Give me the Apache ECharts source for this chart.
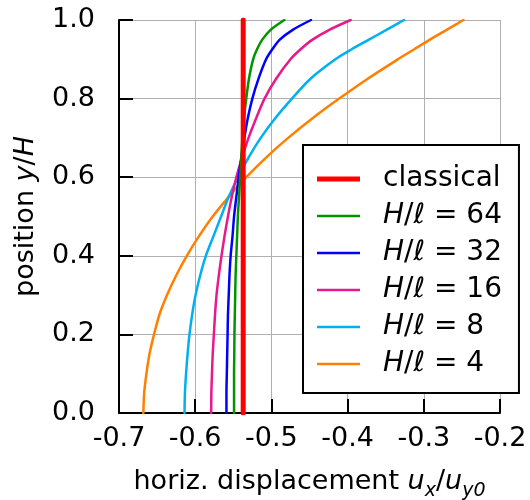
<!DOCTYPE html>
<html>
<head>
<meta charset="utf-8">
<script src="https://cdn.jsdelivr.net/npm/echarts@6/dist/echarts.min.js"></script>
<style>
  html, body { margin: 0; padding: 0; background: #fff; }
  #chart { width: 530px; height: 500px; }
</style>
</head>
<body>
<div id="chart"></div>
<script>
// y/H positions where the curves were read
var yPos = [0, 0.05, 0.1, 0.15, 0.2, 0.25, 0.3, 0.35, 0.4, 0.45, 0.5, 0.55, 0.6,
            0.65, 0.7, 0.75, 0.8, 0.85, 0.9, 0.925, 0.95, 0.975, 1.0];

// horizontal displacement u_x/u_y0 at each yPos
var classical = [-0.537, -0.537];
var classicalY = [0, 1];
var h64 = [-0.549, -0.549, -0.549, -0.5487, -0.5485, -0.548, -0.5475, -0.547, -0.546, -0.545, -0.544, -0.5425,
           -0.541, -0.5395, -0.538, -0.536, -0.533, -0.5295, -0.524, -0.519, -0.512, -0.501, -0.483];
var h32 = [-0.559, -0.559, -0.5585, -0.558, -0.5575, -0.557, -0.556, -0.555, -0.5535, -0.551, -0.549, -0.546,
           -0.543, -0.5395, -0.5355, -0.531, -0.525, -0.517, -0.507, -0.499, -0.489, -0.472, -0.448];
var h16 = [-0.579, -0.5788, -0.578, -0.577, -0.5755, -0.574, -0.572, -0.569, -0.5655, -0.5615, -0.557, -0.552,
           -0.546, -0.5385, -0.530, -0.520, -0.509, -0.494, -0.475, -0.462, -0.446, -0.424, -0.396];
var h8  = [-0.614, -0.6135, -0.612, -0.610, -0.6075, -0.604, -0.5995, -0.5935, -0.586, -0.576, -0.566, -0.556,
           -0.544, -0.530, -0.514, -0.495, -0.473, -0.449, -0.416, -0.395, -0.372, -0.349, -0.326];
var h4  = [-0.668, -0.667, -0.664, -0.660, -0.654, -0.647, -0.637, -0.625, -0.611, -0.595, -0.577, -0.556,
           -0.533, -0.507, -0.478, -0.446, -0.411, -0.374, -0.334, -0.313, -0.292, -0.270, -0.248];

var names = ['classical', 'H/ℓ = 64', 'H/ℓ = 32', 'H/ℓ = 16', 'H/ℓ = 8', 'H/ℓ = 4'];
var colors = ['#ff0000', '#009400', '#0000ff', '#e8198b', '#00b0f0', '#ff8000'];
var xTicks = [-0.7, -0.6, -0.5, -0.4, -0.3, -0.2];

var FONT = 'DejaVu Sans';

function pairs(xs, ys) {
  var out = [];
  for (var i = 0; i < xs.length; i++) out.push([xs[i], ys[i]]);
  return out;
}

var curves = [h64, h32, h16, h8, h4];
var series = [{
  name: names[0],
  type: 'line',
  symbol: 'none',
  z: 10,
  data: pairs(classical, classicalY),
  lineStyle: { color: colors[0], width: 5, cap: 'round' },
  itemStyle: { color: colors[0] }
}];
for (var k = 0; k < curves.length; k++) {
  series.push({
    name: names[k + 1],
    type: 'line',
    symbol: 'none',
    smooth: 0.3,
    z: 5 - k,
    data: pairs(curves[k], yPos),
    lineStyle: { color: colors[k + 1], width: 2.5, cap: 'round', join: 'round' },
    itemStyle: { color: colors[k + 1] }
  });
}

// legend icons: plain strokes, thicker for the classical line
var legendData = names.map(function (n, i) {
  return { name: n, icon: i === 0 ? 'path://M0,0H43V5H0Z' : 'path://M0,0H43V2.6H0Z' };
});

var chart = echarts.init(document.getElementById('chart'), null, { renderer: 'canvas' });

var option = {
  animation: false,
  backgroundColor: '#fff',
  textStyle: { fontFamily: FONT },
  grid: { left: 119, right: 30, top: 20, bottom: 87, containLabel: false, outerBoundsMode: 'none' },
  xAxis: {
    type: 'value',
    min: -0.7,
    max: -0.2,
    interval: 0.1,
    name: 'horiz. displacement {i|u}{s|x}/{i|u}{s|y0}',
    nameLocation: 'middle',
    nameGap: 50,
    nameTextStyle: {
      fontFamily: FONT, fontSize: 27, color: '#000', lineHeight: 38,
      rich: {
        i: { fontFamily: FONT, fontSize: 27, fontStyle: 'italic', color: '#000', lineHeight: 38 },
        s: { fontFamily: FONT, fontSize: 19, fontStyle: 'italic', color: '#000', lineHeight: 19, verticalAlign: 'bottom' }
      }
    },
    axisLine: { show: true, onZero: false, lineStyle: { color: '#000', width: 2 } },
    axisTick: { show: true, inside: true, length: 14, lineStyle: { color: '#000', width: 2 } },
    axisLabel: {
      margin: 12,
      fontFamily: FONT, fontSize: 27, color: '#000',
      formatter: function (v) { return v.toFixed(1); },
      customValues: xTicks
    },
    splitLine: { show: true, lineStyle: { color: '#b0b0b0', width: 1 } }
  },
  yAxis: {
    type: 'value',
    min: 0,
    max: 1,
    interval: 0.2,
    name: 'position {i|y}/{i|H}',
    nameLocation: 'middle',
    nameGap: 80,
    nameTextStyle: {
      fontFamily: FONT, fontSize: 27, color: '#000',
      rich: { i: { fontFamily: FONT, fontSize: 27, fontStyle: 'italic', color: '#000' } }
    },
    axisLine: { show: true, onZero: false, lineStyle: { color: '#000', width: 2 } },
    axisTick: { show: true, inside: true, length: 14, lineStyle: { color: '#000', width: 2 } },
    axisLabel: {
      margin: 24,
      fontFamily: FONT, fontSize: 27, color: '#000',
      formatter: function (v) { return v.toFixed(1); }
    },
    splitLine: { show: true, lineStyle: { color: '#b0b0b0', width: 1 } }
  },
  legend: {
    orient: 'vertical',
    left: 303,
    top: 145,
    data: legendData,
    itemWidth: 43,
    itemHeight: 14,
    itemGap: 7,
    symbolKeepAspect: true,
    padding: [19, 17, 14, 14],
    backgroundColor: '#fff',
    borderColor: '#000',
    borderWidth: 2,
    borderRadius: 0,
    formatter: function (name) {
      if (name === 'classical') return '{n|classical}';
      var parts = name.split(' = ');
      return '{i|H}{n|/}{i|ℓ}{n| = ' + parts[1] + '}';
    },
    textStyle: {
      fontFamily: FONT, fontSize: 28, color: '#000', lineHeight: 30,
      rich: {
        n: { fontFamily: FONT, fontSize: 28, color: '#000', lineHeight: 30 },
        i: { fontFamily: FONT, fontSize: 28, fontStyle: 'italic', color: '#000', lineHeight: 30 }
      },
      padding: [0, 0, 0, 18]
    }
  },
  series: series
};

chart.setOption(option);
</script>
</body>
</html>
